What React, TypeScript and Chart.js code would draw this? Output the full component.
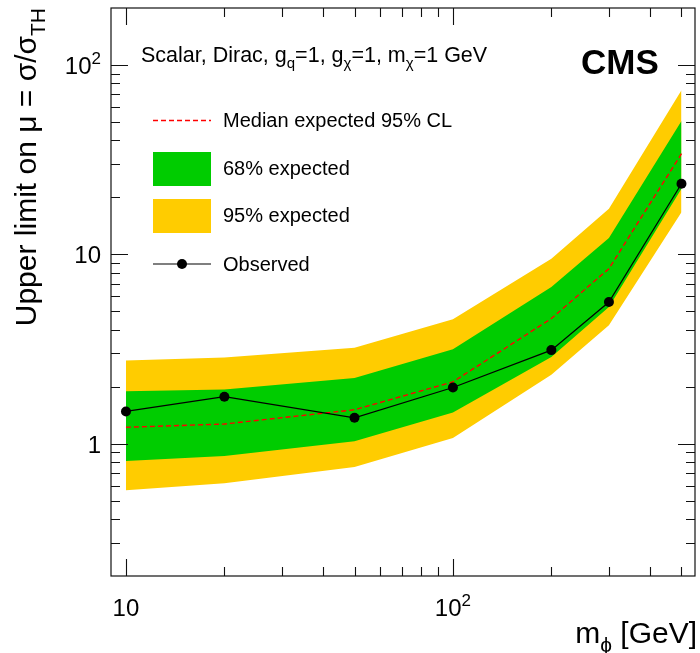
import React, { useEffect, useRef } from "react";
import { Chart, registerables } from "chart.js";

Chart.register(...registerables);

// Mediator mass points (GeV)
const massPoints = [10, 20, 50, 100, 200, 300, 500];
// Upper limits on the signal strength
const observed = [1.48, 1.77, 1.37, 1.98, 3.12, 5.6, 23.6];
const expectedMedian = [1.22, 1.27, 1.51, 2.12, 4.58, 8.4, 34.0];
const expected68Up = [1.89, 1.93, 2.22, 3.15, 6.72, 12.2, 50.6];
const expected68Down = [0.81, 0.86, 1.03, 1.46, 2.87, 5.27, 22.2];
const expected95Up = [2.75, 2.85, 3.21, 4.54, 9.49, 17.4, 73.5];
const expected95Down = [0.567, 0.617, 0.752, 1.07, 2.31, 4.22, 16.7];

// Axis ranges and tick labels
const xRange = [9, 550];
const yRange = [0.2, 200];
const xMajorTicks = [10, 100];
const xMajorLabels = ["10", "10^2"];
const yMajorTicks = [1, 10, 100];
const yMajorLabels = ["1", "10", "10^2"];

const legendLabels = ["Median expected 95% CL", "68% expected", "95% expected", "Observed"];

const GREEN = "rgb(0,204,0)";
const YELLOW = "rgb(255,204,0)";
const RED = "rgb(255,0,0)";
const FONT = "'Liberation Sans', Arial, Helvetica, sans-serif";

type Part = { t: string; sub?: boolean; sup?: boolean; bold?: boolean };

function parseLabel(s: string): Part[] {
  const i = s.indexOf("^");
  if (i < 0) return [{ t: s }];
  return [{ t: s.slice(0, i) }, { t: s.slice(i + 1), sup: true }];
}

function partFont(p: Part, size: number) {
  const sz = p.sub || p.sup ? Math.round(size * 0.7) : size;
  return `${p.bold ? "bold " : ""}${sz}px ${FONT}`;
}

function richWidth(ctx: CanvasRenderingContext2D, parts: Part[], size: number) {
  let w = 0;
  for (const p of parts) {
    ctx.font = partFont(p, size);
    w += ctx.measureText(p.t).width;
  }
  return w;
}

function drawRich(
  ctx: CanvasRenderingContext2D,
  parts: Part[],
  x: number,
  y: number,
  size: number,
  align: "left" | "right" | "center"
) {
  const w = richWidth(ctx, parts, size);
  let cx = align === "left" ? x : align === "right" ? x - w : x - w / 2;
  ctx.textAlign = "left";
  ctx.textBaseline = "alphabetic";
  for (const p of parts) {
    ctx.font = partFont(p, size);
    const dy = p.sub ? size * 0.3 : p.sup ? -size * 0.42 : 0;
    ctx.fillText(p.t, cx, y + dy);
    cx += ctx.measureText(p.t).width;
  }
}

function minorTicks(lo: number, hi: number, majors: number[]) {
  const out: number[] = [];
  for (let d = Math.floor(Math.log10(lo)); d <= Math.ceil(Math.log10(hi)); d++) {
    for (let k = 1; k <= 9; k++) {
      const v = k * Math.pow(10, d);
      if (v > lo * 1.0001 && v < hi * 0.9999 && !majors.includes(v)) out.push(v);
    }
  }
  return out;
}

const decorations = {
  id: "rootStyleFrame",
  afterDraw(chart: Chart) {
    const ctx = chart.ctx;
    const { left, right, top, bottom } = chart.chartArea;
    const xs = chart.scales.x;
    const ys = chart.scales.y;
    ctx.save();

    // frame
    ctx.strokeStyle = "#111";
    ctx.lineWidth = 1.2;
    ctx.strokeRect(left, top, right - left, bottom - top);

    // inward ticks on all four sides
    const majorLen = 17;
    const minorLen = 9;
    ctx.lineWidth = 1.1;
    ctx.beginPath();
    const xMinor = minorTicks(xRange[0], xRange[1], xMajorTicks);
    for (const v of [...xMajorTicks, ...xMinor]) {
      const px = Math.round(xs.getPixelForValue(v)) + 0.5;
      const len = xMajorTicks.includes(v) ? majorLen : minorLen;
      ctx.moveTo(px, bottom);
      ctx.lineTo(px, bottom - len);
      ctx.moveTo(px, top);
      ctx.lineTo(px, top + len);
    }
    const yMinor = minorTicks(yRange[0], yRange[1], yMajorTicks);
    for (const v of [...yMajorTicks, ...yMinor]) {
      const py = Math.round(ys.getPixelForValue(v)) + 0.5;
      const len = yMajorTicks.includes(v) ? majorLen : minorLen;
      ctx.moveTo(left, py);
      ctx.lineTo(left + len, py);
      ctx.moveTo(right, py);
      ctx.lineTo(right - len, py);
    }
    ctx.stroke();

    ctx.fillStyle = "#000";
    // tick labels
    xMajorTicks.forEach((v, i) => {
      drawRich(ctx, parseLabel(xMajorLabels[i]), xs.getPixelForValue(v), 616, 24, "center");
    });
    yMajorTicks.forEach((v, i) => {
      drawRich(ctx, parseLabel(yMajorLabels[i]), 101, ys.getPixelForValue(v) + 9, 24, "right");
    });

    // axis titles
    drawRich(ctx, [{ t: "m" }, { t: "ϕ", sub: true }, { t: " [GeV]" }], 697, 643, 30, "right");
    ctx.save();
    ctx.translate(36, 8);
    ctx.rotate(-Math.PI / 2);
    drawRich(ctx, [{ t: "Upper limit on μ = σ/σ" }, { t: "TH", sub: true }], 0, 0, 30, "right");
    ctx.restore();

    // model annotation and experiment label
    drawRich(
      ctx,
      [
        { t: "Scalar, Dirac, g" },
        { t: "q", sub: true },
        { t: "=1, g" },
        { t: "χ", sub: true },
        { t: "=1, m" },
        { t: "χ", sub: true },
        { t: "=1 GeV" },
      ],
      141,
      62,
      21.5,
      "left"
    );
    drawRich(ctx, [{ t: "CMS", bold: true }], 581, 74, 35, "left");

    // legend
    const lx0 = 153;
    const lx1 = 211;
    const tx = 223;
    ctx.strokeStyle = RED;
    ctx.lineWidth = 1.4;
    ctx.setLineDash([5, 3]);
    ctx.beginPath();
    ctx.moveTo(lx0, 120.5);
    ctx.lineTo(lx1, 120.5);
    ctx.stroke();
    ctx.setLineDash([]);
    ctx.fillStyle = GREEN;
    ctx.fillRect(lx0, 152, lx1 - lx0, 34);
    ctx.fillStyle = YELLOW;
    ctx.fillRect(lx0, 199, lx1 - lx0, 34);
    ctx.strokeStyle = "#000";
    ctx.lineWidth = 1.2;
    ctx.beginPath();
    ctx.moveTo(lx0, 264);
    ctx.lineTo(lx1, 264);
    ctx.stroke();
    ctx.fillStyle = "#000";
    ctx.beginPath();
    ctx.arc(182, 264, 5, 0, Math.PI * 2);
    ctx.fill();
    const baselines = [127, 175, 222, 271];
    legendLabels.forEach((s, i) => drawRich(ctx, [{ t: s }], tx, baselines[i], 20, "left"));

    ctx.restore();
  },
};

export default function App() {
  const ref = useRef<HTMLCanvasElement | null>(null);

  useEffect(() => {
    document.body.style.margin = "0";
    if (!ref.current) return;
    const pts = (vals: number[]) => massPoints.map((m, i) => ({ x: m, y: vals[i] }));
    const band = { borderWidth: 0, pointRadius: 0, tension: 0 };
    const chart = new Chart(ref.current, {
      type: "line",
      data: {
        datasets: [
          {
            label: "Observed",
            data: pts(observed),
            borderColor: "#000",
            backgroundColor: "#000",
            borderWidth: 1.2,
            pointRadius: 5,
            pointBorderWidth: 0,
            fill: false,
            order: 0,
          },
          {
            label: "Median expected 95% CL",
            data: pts(expectedMedian),
            borderColor: RED,
            borderWidth: 1.4,
            borderDash: [5, 3],
            pointRadius: 0,
            fill: false,
            order: 1,
          },
          {
            label: "68% expected",
            data: pts(expected68Up),
            backgroundColor: GREEN,
            fill: 3,
            order: 2,
            ...band,
          },
          {
            label: "68% expected low",
            data: pts(expected68Down),
            fill: false,
            order: 2,
            ...band,
          },
          {
            label: "95% expected",
            data: pts(expected95Up),
            backgroundColor: YELLOW,
            fill: 5,
            order: 4,
            ...band,
          },
          {
            label: "95% expected low",
            data: pts(expected95Down),
            fill: false,
            order: 4,
            ...band,
          },
        ],
      },
      options: {
        animation: false,
        responsive: false,
        layout: { padding: { left: 111, right: 4, top: 8, bottom: 77 } },
        plugins: { legend: { display: false }, tooltip: { enabled: false } },
        scales: {
          x: { type: "logarithmic", min: xRange[0], max: xRange[1], display: false },
          y: { type: "logarithmic", min: yRange[0], max: yRange[1], display: false },
        },
      },
      plugins: [decorations],
    });
    return () => chart.destroy();
  }, []);

  return (
    <div style={{ position: "fixed", left: 0, top: 0, width: 700, height: 653, background: "#fff" }}>
      <canvas ref={ref} width={700} height={653} />
    </div>
  );
}
